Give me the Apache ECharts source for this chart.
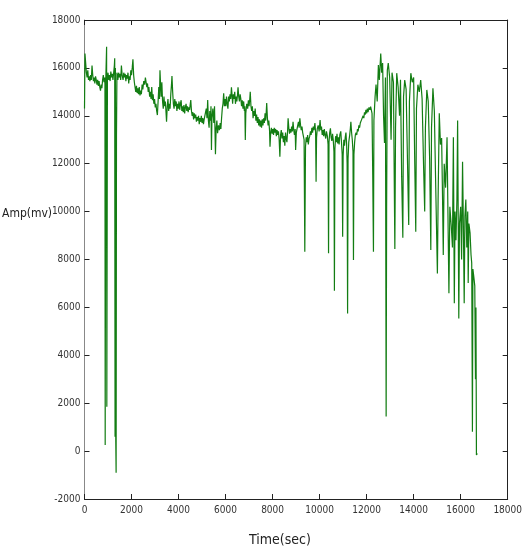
<!DOCTYPE html>
<html><head><meta charset="utf-8">
<script src="https://cdn.jsdelivr.net/npm/echarts@6/dist/echarts.min.js"></script>
<style>html,body{margin:0;padding:0;background:#fff}#c{width:525px;height:557px}</style>
</head><body><div id="c"></div>
<script>
const xTicks = [0,2000,4000,6000,8000,10000,12000,14000,16000,18000];
const yTicks = [-2000,0,2000,4000,6000,8000,10000,12000,14000,16000,18000];
const xTitle = 'Time(sec)';
const yTitle = 'Amp(mv)';
const timeSec = [
0,20,50,80,110,140,170,200,230,260,290,320,350,380,410,440,470,500,530,560,590,620,650,680,710,740,770,800,830,860,870,880,905,940,950,975,
1000,1030,1060,1090,1120,1150,1180,1210,1240,1270,1285,1300,1315,1330,1345,1360,1380,
1420,1450,1480,1510,1540,1570,1600,1640,1670,1700,1730,1760,1790,1820,1850,1880,1910,1940,1970,
2000,2030,2060,2090,2120,2150,2180,2210,2240,2270,2300,2330,2360,2390,2420,2450,2480,
2520,2560,2590,2620,2650,2680,2710,2740,2770,2800,2830,2860,2890,2920,2950,2980,
3010,3040,3070,3100,3130,3160,3190,3210,3240,3260,3290,3320,3350,3380,3410,3440,3470,3490,
3520,3550,3580,3610,3640,3670,3700,3720,3750,3780,3810,3840,3870,3900,3930,3960,3990,
4020,4050,4080,4110,4140,4170,4200,4230,4260,4290,4320,4350,4380,4410,4440,4470,4500,
4520,4550,4580,4610,4640,4670,4700,4730,4760,4790,4820,4850,4880,4910,4940,4970,5000,
5030,5060,5090,5120,5150,5180,5210,5240,5270,5300,5330,5360,5380,5400,5420,5460,5500,
5530,5570,5600,5630,5660,5700,5740,5770,5800,5830,5860,5890,5920,5950,5980,
6010,6040,6070,6100,6130,6160,6190,6220,6250,6280,6300,6330,6360,6390,6420,6450,6480,
6510,6530,6560,6590,6620,6650,6680,6710,6740,6770,6800,6820,6840,6860,6900,6940,6970,
7000,7030,7050,7080,7110,7140,7170,7200,7230,7260,7290,7320,7350,7380,7410,7440,7470,
7500,7530,7560,7590,7620,7650,7680,7710,7750,7780,7810,7840,7870,7890,7920,7950,7980,
8010,8040,8070,8100,8130,8160,8190,8220,8250,8280,8310,8340,8370,8400,8430,8460,8490,
8520,8550,8580,8610,8640,8660,8690,8720,8750,8780,8810,8840,8870,8900,8930,8960,8980,
9010,9040,9070,9100,9130,9160,9190,9220,9250,9280,9310,9340,9370,
9400,9430,9460,9490,9520,9550,9580,9610,9640,9670,9700,9730,9760,9800,9830,9850,9870,
9900,9940,9980,10020,10050,10080,10110,10140,10170,10200,10230,10260,10290,10330,10360,10380,10400,
10430,10460,10490,10520,10550,10580,10610,10630,10650,10680,10710,10740,10770,10800,10830,10860,10900,
10930,10960,10980,11000,11030,11060,11090,11120,11150,11170,11190,11210,11240,11280,11310,11330,11360,
11390,11420,11440,11460,11490,11520,11550,11580,11610,11640,11670,11700,11730,11760,11790,11820,11850,
11880,11910,11940,11970,12000,12030,12060,12100,12140,12170,12230,12260,12290,12310,12360,12400,12450,
12500,12540,12600,12640,12680,12720,12760,12800,12830,12850,12880,12920,12980,13040,13080,13140,13200,
13230,13280,13340,13400,13440,13490,13540,13570,13620,13680,13740,13790,13820,13880,13940,14000,14040,
14090,14120,14180,14240,14300,14360,14420,14470,14500,14560,14620,14680,14730,14760,14820,14880,14940,
15010,15040,15090,15140,15190,15230,15260,15300,15360,15420,15460,15500,15540,15600,15650,15690,15730,
15760,15800,15840,15870,15900,15920,15950,16000,16040,16080,16120,16150,16180,16220,16260,16300,16320,
16350,16400,16440,16470,16500,16520,16560,16600,16630,16650,16670,16690,16710
];
const ampMv = [
14300,16600,16200,15800,15600,15900,15500,15650,15450,15700,15500,16100,15700,15450,15600,15350,15650,15500,15300,15500,15250,15450,15200,15050,15300,15150,15500,15700,15400,15600,15300,250,15500,16880,1850,15600,
15800,15500,15700,15450,15850,15600,15750,15500,15800,16100,16400,600,16000,400,-900,13200,15800,
15500,15800,15600,15750,15500,16100,15700,15500,15800,15600,15750,15450,15700,15550,15800,15350,15650,15500,15900,
15700,16000,16360,15700,15400,15200,15000,15250,14950,15150,14900,15200,14850,15050,14900,15300,15100,
15450,15300,15600,15400,15200,15350,15000,15200,14800,15000,14700,15200,14650,14900,14500,14700,
14350,14500,14200,14030,14600,15200,14700,15900,15200,14800,15400,14600,14300,14800,14400,14600,14100,13750,
14400,14700,14200,14500,14300,14900,15300,15660,15000,14500,14300,14700,14400,14600,14200,14500,14300,
14600,14250,14500,14650,14200,14400,14150,14450,14100,14350,14500,14200,14400,14150,14350,14250,14500,
14660,14200,14000,14150,13850,14100,13900,14050,13750,13950,13800,14000,13650,13900,13750,14000,13700,
13900,13650,13850,13900,14150,14300,13900,14660,13800,13500,14200,13800,14400,12570,13900,14300,13700,
14400,12400,13500,13800,13270,13600,13400,13700,13450,13900,14300,14500,14940,14400,14700,
14400,14800,14500,14300,14800,14600,14900,14700,15190,14800,14500,14900,14700,15000,14500,14800,14600,
14900,15190,14800,14600,14900,14700,14400,14650,14300,14600,14200,14400,12990,14100,14500,14300,14650,
14400,14700,15000,14400,14200,14400,13900,14200,14000,14300,13800,14050,13700,13950,13600,13850,13550,
13800,13500,13850,13600,13900,13700,14100,13800,14530,13900,13600,13800,13400,12710,13300,13500,13250,
13450,13200,13500,13300,13450,13150,13400,13200,13350,13000,12290,13200,13400,13050,13300,12900,13150,
12750,13300,13050,12900,13400,13900,13500,13250,13450,13300,13550,13350,13750,13400,13200,13450,12570,
13300,13450,13600,13750,13500,13900,13600,13400,13550,13300,13150,13000,8320,
12700,13100,12900,13200,12800,13050,13150,13350,13200,13500,13300,13550,13400,13700,13300,11250,13100,
13450,13600,13350,13820,13400,13550,13200,13400,13150,13450,13200,13050,13350,13150,12800,8260,12900,
13300,13480,13100,12950,13250,13000,12500,6700,12600,13150,12900,13250,12850,13100,12800,13200,13350,
12900,12400,8950,12300,13000,12750,13100,13300,12800,12000,5750,12200,12900,13200,13500,13750,13300,
13000,12500,7980,12400,12900,13200,13300,13200,13450,13350,13600,13500,13700,13650,13850,13800,14000,
13900,14150,14050,14250,14100,14300,14150,14350,14250,14380,14100,11500,8320,13800,14800,15300,14600,
16120,15500,16600,15800,16200,14000,12860,15600,1440,10070,15900,16200,15600,13000,15800,15400,8440,
13500,15780,15200,14000,15500,11460,8910,14800,15490,15100,12000,9440,14600,15780,15400,15600,12500,
9160,14300,15300,15000,15490,14700,12000,10000,13500,15080,14600,12200,8400,13500,15150,14200,11000,
7420,10500,14110,12800,13070,10500,8190,12000,11000,13100,9800,6590,10200,9400,8500,13100,6170,
10000,8800,10500,13800,9000,5540,9500,10200,8000,12080,9000,6170,9800,10500,8500,10000,7020,
9500,9100,8200,7850,810,7600,7270,6900,3000,6000,-160,-200,-100
];
const seriesData = timeSec.map((t,i)=>[t, ampMv[i]]);
const chart = echarts.init(document.getElementById('c'), null, {renderer:'canvas'});
const lblFont = "'DejaVu Sans Condensed','Liberation Sans',sans-serif";
const fmt = v => String(v);
const baseX = {type:'value', min:xTicks[0], max:xTicks[xTicks.length-1], interval:2000, splitLine:{show:false},
  axisTick:{inside:true,length:5,lineStyle:{color:'#222'}}, axisLine:{onZero:false,lineStyle:{color:'#222',width:1}}};
const baseY = {type:'value', min:yTicks[0], max:yTicks[yTicks.length-1], interval:2000, splitLine:{show:false},
  axisTick:{inside:true,length:5,lineStyle:{color:'#222'}}, axisLine:{onZero:false,lineStyle:{color:'#222',width:1}}};
chart.setOption({
  animation:false,
  backgroundColor:'#fff',
  grid:{left:84.5,right:13.5,top:20,bottom:58,containLabel:false},
  xAxis:[
    Object.assign({}, baseX, {position:'bottom', axisLabel:{color:'#333',fontSize:10,fontFamily:lblFont,margin:6,formatter:fmt}}),
    Object.assign({}, baseX, {position:'top', axisLabel:{show:false}})
  ],
  yAxis:[
    Object.assign({}, baseY, {position:'left', axisLine:{onZero:false,lineStyle:{color:'#888',width:1}}, axisLabel:{color:'#333',fontSize:10,fontFamily:lblFont,margin:4,formatter:fmt}}),
    Object.assign({}, baseY, {position:'right', axisLabel:{show:false}})
  ],
  graphic:[
    {type:'text', left:2, top:208, style:{text:yTitle, fontSize:12, fontFamily:lblFont, fill:'#222'}},
    {type:'text', left:249, top:533, style:{text:xTitle, fontSize:14, fontFamily:lblFont, fill:'#222'}}
  ],
  series:[{type:'line', data:seriesData, showSymbol:false, symbol:'none', xAxisIndex:0, yAxisIndex:0,
    lineStyle:{color:'#137d13', width:1.2}, emphasis:{disabled:true}}]
});
</script></body></html>
